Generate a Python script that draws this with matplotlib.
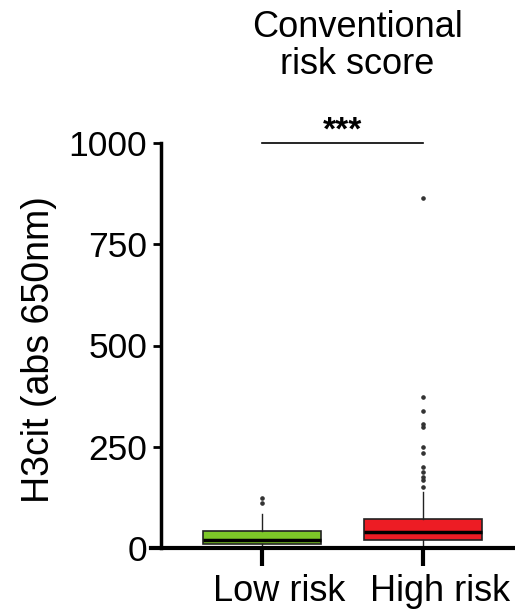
import matplotlib.pyplot as plt
import matplotlib.transforms as mtransforms

plt.rcParams['font.family'] = ['Liberation Sans', 'DejaVu Sans']

groups = ["Low risk", "High risk"]
colors = ["#7DC728", "#ED1C24"]
q1 = [10, 20]
med = [20, 40]
q3 = [42, 72]
whislo = [0, 0]
whishi = [84, 138]
fliers = [
    [111, 123],
    [151, 168, 175, 188, 200, 234, 249, 299, 306, 338, 373, 864],
]

stats = []
for i in range(2):
    stats.append(dict(med=med[i], q1=q1[i], q3=q3[i], whislo=whislo[i],
                      whishi=whishi[i], fliers=fliers[i], label=groups[i]))

fig = plt.figure(figsize=(5.15, 6.10), dpi=100)
ax = fig.add_axes([151 / 515, 1 - 548 / 610, 1 - 151 / 515, (548 - 143) / 610])

bp = ax.bxp(stats, positions=[1, 2], widths=0.733, patch_artist=True,
            boxprops=dict(edgecolor='#222222', linewidth=1.2),
            medianprops=dict(color='black', linewidth=2.5),
            whiskerprops=dict(color='#222222', linewidth=1.0),
            capprops=dict(linewidth=0),
            flierprops=dict(marker='o', markersize=2.3, markerfacecolor='#333333',
                            markeredgecolor='#333333'))
for patch, c in zip(bp['boxes'], colors):
    patch.set_facecolor(c)

ax.set_xlim(0.311, 2.571)
ax.set_ylim(0, 1000)
ax.set_yticks([0, 250, 500, 750, 1000])
ax.set_xticks([1, 2])
ax.set_xticklabels(groups, fontsize=26)
ax.tick_params(axis='y', labelsize=25.5, length=6, width=2, pad=4)
ax.tick_params(axis='x', length=13, width=3, pad=6)
# labels sit a little right of the ticks in the original
shift = mtransforms.ScaledTranslation(17 / 100, 0, fig.dpi_scale_trans)
for lbl in ax.get_xticklabels():
    lbl.set_transform(lbl.get_transform() + shift)

ax.spines['top'].set_visible(False)
ax.spines['right'].set_visible(False)
ax.spines['left'].set_position(('data', 0.373))
ax.spines['left'].set_linewidth(2.5)
ax.spines['bottom'].set_linewidth(3)

ax.set_ylabel("H3cit (abs 650nm)", fontsize=27)
ax.yaxis.set_label_coords(57 / 515, 1 - 350 / 610, transform=fig.transFigure)

# significance bar
ax.plot([1, 2], [1000, 1000], color='black', linewidth=1.2, clip_on=False)
ax.text(1.5, 992, "***", ha='center', va='bottom', fontsize=24, fontweight='bold',
        clip_on=False)

fig.text(357 / 515, 1 - 46 / 610, "Conventional\nrisk score", ha='center',
         va='center', fontsize=26, linespacing=1.1)

fig.savefig('out.png', dpi=100)
